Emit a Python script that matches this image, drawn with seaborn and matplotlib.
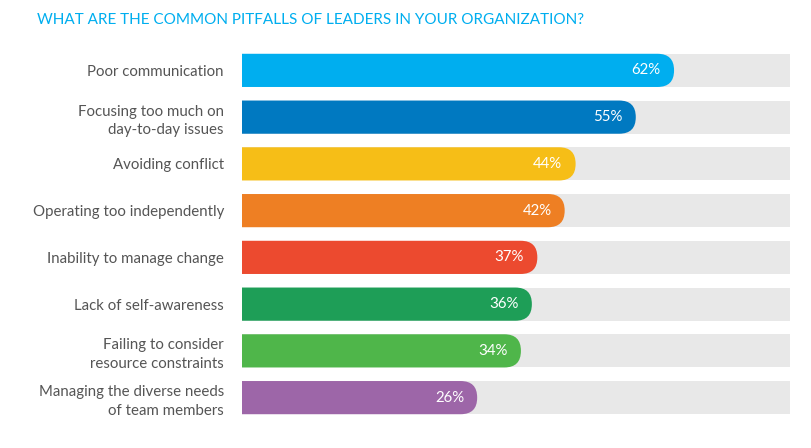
import matplotlib
matplotlib.use("Agg")
import matplotlib.pyplot as plt
import seaborn as sns
import pandas as pd
from matplotlib.patches import FancyBboxPatch

categories = [
    "Poor communication",
    "Focusing too much on\nday-to-day issues",
    "Avoiding conflict",
    "Operating too independently",
    "Inability to manage change",
    "Lack of self-awareness",
    "Failing to consider\nresource constraints",
    "Managing the diverse needs\nof team members",
]
values = [62, 55, 44, 42, 37, 36, 34, 26]
value_labels = ["62%", "55%", "44%", "42%", "37%", "36%", "34%", "26%"]
bar_colors = ["#00AEEF", "#0079C1", "#F6BE17", "#EE7F23", "#EC4A2F",
              "#1E9E57", "#4FB64A", "#9D66A8"]
title = "WHAT ARE THE COMMON PITFALLS OF LEADERS IN YOUR ORGANIZATION?"

sns.set_theme(style="white")
plt.rcParams['font.family'] = ['Lato', 'DejaVu Sans']

W, H = 811, 448
fig = plt.figure(figsize=(W / 100, H / 100), dpi=100)
ax_l, ax_r, ax_t, ax_b = 242, 790, 47, 421
ax = fig.add_axes([ax_l / W, 1 - ax_b / H, (ax_r - ax_l) / W, (ax_b - ax_t) / H])

XMIN, XMAX = -17, 83.2
BAR_W = 0.71

df = pd.DataFrame({"category": categories, "value": values})
track = pd.DataFrame({"category": categories, "value": [XMAX] * len(categories)})

# grey tracks
sns.barplot(data=track, y="category", x="value", orient="h", color="#E8E8E8",
            width=BAR_W, ax=ax, saturation=1)
n_track = len(ax.patches)
for p in ax.patches[:n_track]:
    p.set_x(XMIN - 10)
    p.set_width(XMAX - XMIN + 20)
    p.set_edgecolor("none")

# coloured bars
sns.barplot(data=df, y="category", x="value", orient="h", hue="category",
            palette=bar_colors, width=BAR_W, ax=ax, saturation=1, legend=False)

px_x = (ax_r - ax_l) / (XMAX - XMIN)
px_y = (ax_b - ax_t) / 8.0
colored = list(ax.patches[n_track:])
for p in colored:
    y, h, w = p.get_y(), p.get_height(), p.get_width()
    col = p.get_facecolor()
    p.remove()
    r_px = h * px_y / 2 * 0.995
    r_x = r_px / px_x
    aspect = (r_px / px_y) / r_x
    start = XMIN - 10
    fb = FancyBboxPatch((start, y), w - start, h,
                        boxstyle=f"round,pad=0,rounding_size={r_x}",
                        mutation_aspect=aspect, facecolor=col, edgecolor="none",
                        clip_on=True, zorder=3)
    ax.add_patch(fb)

for i, (v, lab) in enumerate(zip(values, value_labels)):
    ax.annotate(lab, xy=(v, i), xytext=(-9.5, 0), textcoords="offset points",
                ha="right", va="center", color="white", fontsize=10.8, zorder=5)

ax.set_xlim(XMIN, XMAX)
ax.set_ylim(7.5, -0.5)
ax.set_xlabel("")
ax.set_ylabel("")
ax.set_xticks([])
ax.tick_params(axis="y", length=0, pad=13, labelsize=10.8, labelcolor="#555555")
for t in ax.get_yticklabels():
    t.set_multialignment("right")
    t.set_linespacing(1.4)
for s in ax.spines.values():
    s.set_visible(False)

fig.text(37 / W, 1 - 20 / H, title, color="#00AEEF", fontsize=11, va="center", ha="left")

fig.savefig("out.png", dpi=100)
